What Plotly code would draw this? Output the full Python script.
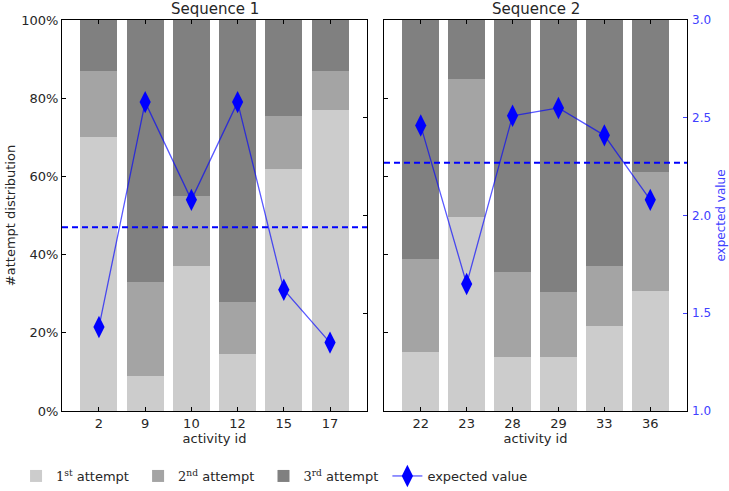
import plotly.graph_objects as go

# ---- data ----
seq1_ids = ["2", "9", "10", "12", "15", "17"]
seq1_first = [70, 9, 37, 14.5, 62, 77]
seq1_second = [17, 24, 18, 13.5, 13.5, 10]
seq1_third = [13, 67, 45, 72, 24.5, 13]
seq1_expected = [1.43, 2.58, 2.08, 2.58, 1.62, 1.35]
seq1_mean = 1.94

seq2_ids = ["22", "23", "28", "29", "33", "36"]
seq2_first = [15, 49.5, 13.7, 13.7, 21.8, 30.6]
seq2_second = [24, 35.5, 21.8, 16.8, 15.2, 30.4]
seq2_third = [61, 15, 64.5, 69.5, 63, 39]
seq2_expected = [2.46, 1.65, 2.51, 2.55, 2.41, 2.08]
seq2_mean = 2.27

pct_ticks = [0, 20, 40, 60, 80, 100]
pct_labels = ["0%", "20%", "40%", "60%", "80%", "100%"]
ev_ticks = [1.0, 1.5, 2.0, 2.5, 3.0]
ev_labels = ["1.0", "1.5", "2.0", "2.5", "3.0"]

legend_names = [
    '<span style="font-family:DejaVu Serif">1<sup>st</sup></span> attempt&nbsp;',
    '<span style="font-family:DejaVu Serif">2<sup>nd</sup></span> attempt&nbsp;',
    '<span style="font-family:DejaVu Serif">3<sup>rd</sup></span> attempt&nbsp;',
    "expected value",
]

C1, C2, C3 = "#cccccc", "#a4a4a4", "#808080"
BLUE = "#0000ff"
FONT = "DejaVu Sans"
TXT = "#262626"
TBLUE = "#4040ff"

fig = go.Figure()

panels = [
    (seq1_ids, seq1_first, seq1_second, seq1_third, seq1_expected, seq1_mean, "x", "y", "y3", True),
    (seq2_ids, seq2_first, seq2_second, seq2_third, seq2_expected, seq2_mean, "x2", "y2", "y4", False),
]

for ids, f, s, t, ev, mean, xa, ya, ya2, show in panels:
    for vals, col, name in [(f, C1, legend_names[0]), (s, C2, legend_names[1]), (t, C3, legend_names[2])]:
        fig.add_trace(go.Bar(x=ids, y=vals, name=name, marker=dict(color=col, line=dict(width=0)),
                             xaxis=xa, yaxis=ya, showlegend=show, legendgroup=name))
    fig.add_trace(go.Scatter(x=ids, y=ev, mode="lines+markers", name=legend_names[3],
                             line=dict(color="rgba(0,0,255,0.65)", width=1.3),
                             marker=dict(symbol="diamond-tall", size=16, color=BLUE, line=dict(width=0)),
                             xaxis=xa, yaxis=ya2, showlegend=show, legendgroup="ev"))
    fig.add_shape(type="line", xref=xa + " domain", x0=0, x1=1, yref=ya2, y0=mean, y1=mean,
                  line=dict(color=BLUE, width=2, dash="6px,4px"))

W, H = 729, 491
ml, mr, mt, mb = 62, 42, 20, 80
pw = W - ml - mr

def dom(a, b):
    return [(a - ml) / pw, (b - ml) / pw]

common_x = dict(type="category", range=[-0.8, 5.8], showline=True, mirror="ticks", linecolor="black",
                linewidth=1, ticks="inside", ticklen=4, tickcolor="black", showgrid=False, zeroline=False,
                automargin=False,
                tickfont=dict(family=FONT, size=13, color=TXT),
                title=dict(text="activity id", font=dict(family=FONT, size=13, color=TXT), standoff=1))

fig.update_layout(
    width=W, height=H, margin=dict(l=ml, r=mr, t=mt, b=mb, autoexpand=False),
    paper_bgcolor="white", plot_bgcolor="white",
    barmode="stack", bargap=0.2,
    font=dict(family=FONT, size=13, color=TXT),
    xaxis=dict(domain=dom(62, 367), anchor="y", **common_x),
    xaxis2=dict(domain=dom(384, 687), anchor="y2", **common_x),
    yaxis=dict(range=[0, 100], tickvals=pct_ticks, ticktext=pct_labels, showline=True, mirror=True,
               linecolor="black", linewidth=1, ticks="inside", ticklen=4, tickcolor="black",
               showgrid=False, zeroline=False, anchor="x", automargin=False,
               tickfont=dict(family=FONT, size=13, color=TXT),
               title=dict(text="#attempt distribution", font=dict(family=FONT, size=13, color=TXT), standoff=2)),
    yaxis2=dict(range=[0, 100], tickvals=pct_ticks, showticklabels=False, showline=True, mirror=True,
                linecolor="black", linewidth=1, ticks="inside", ticklen=4, tickcolor="black",
                showgrid=False, zeroline=False, anchor="x2", matches="y", automargin=False),
    yaxis3=dict(range=[1, 3], tickvals=ev_ticks, showticklabels=False, overlaying="y", side="right",
                anchor="x", ticks="inside", ticklen=4, tickcolor="black", showgrid=False, zeroline=False,
                showline=False, automargin=False),
    yaxis4=dict(range=[1, 3], tickvals=ev_ticks, ticktext=ev_labels, overlaying="y2", side="right",
                anchor="x2", ticks="inside", ticklen=4, tickcolor=TBLUE, showgrid=False, zeroline=False,
                showline=False, automargin=False, ticklabelstandoff=4,
                tickfont=dict(family=FONT, size=12, color=TBLUE),
                title=dict(text="expected value", font=dict(family=FONT, size=12, color=TBLUE), standoff=6)),
    legend=dict(orientation="h", xref="container", yref="container", x=0.022, xanchor="left",
                y=(491 - 476) / 491, yanchor="middle",
                font=dict(family=FONT, size=13, color=TXT), entrywidth=0,
                traceorder="normal", bgcolor="rgba(0,0,0,0)"),
    annotations=[
        dict(text="Sequence 1", xref="paper", yref="paper", x=sum(dom(62, 367)) / 2, xanchor="center",
             y=1, yanchor="bottom", yshift=0, showarrow=False, font=dict(family=FONT, size=15, color=TXT)),
        dict(text="Sequence 2", xref="paper", yref="paper", x=sum(dom(384, 687)) / 2, xanchor="center",
             y=1, yanchor="bottom", yshift=0, showarrow=False, font=dict(family=FONT, size=15, color=TXT)),
    ],
)

fig.write_html("out.html", config={"displayModeBar": False},
               post_script="document.body.style.margin='0';")
